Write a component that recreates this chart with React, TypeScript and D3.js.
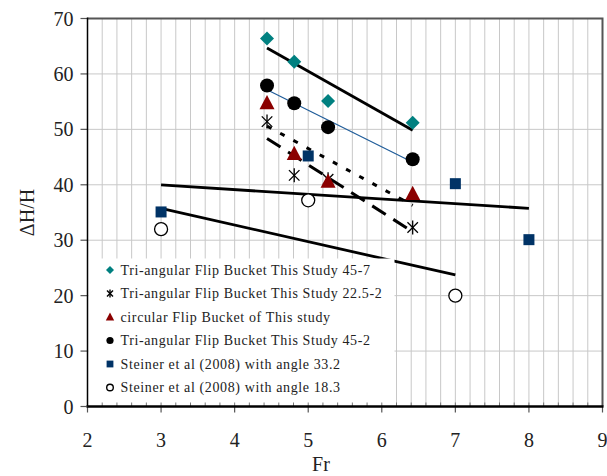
import React from "react";
import * as d3 from "d3";

const frThis = [4.44, 4.81, 5.27, 6.42];
const dh45_7 = [66.4, 62.2, 55.1, 51.2];
const dh22_5 = [51.4, 41.7, 41.0, 32.3];
const dhCircular = [54.8, 45.6, 40.6, 38.4];
const dh45_2 = [57.9, 54.7, 50.4, 44.6];
const frSteiner33 = [3, 5, 7, 8];
const dhSteiner33 = [35.1, 45.2, 40.2, 30.1];
const frSteiner18 = [3, 5, 7];
const dhSteiner18 = [32.0, 37.2, 20.0];

const xTicks = [2, 3, 4, 5, 6, 7, 8, 9];
const yTicks = [0, 10, 20, 30, 40, 50, 60, 70];

const legendLabels = [
  "Tri-angular Flip Bucket This Study 45-7",
  "Tri-angular Flip Bucket This Study 22.5-2",
  "circular Flip Bucket of This study",
  "Tri-angular Flip Bucket This Study 45-2",
  "Steiner  et al (2008) with angle 33.2",
  "Steiner  et al (2008) with angle 18.3",
];

const W = 607, H = 476;
const L = 87.5, R = 602.5, T = 18.5, B = 406.5;
const FONT = "'Liberation Serif', 'Times New Roman', serif";

function fit(xs: number[], ys: number[]) {
  const mx = d3.mean(xs)!, my = d3.mean(ys)!;
  let sxy = 0, sxx = 0;
  xs.forEach((x, i) => { sxy += (x - mx) * (ys[i] - my); sxx += (x - mx) * (x - mx); });
  const m = sxy / sxx;
  const b = my - m * mx;
  const x0 = d3.min(xs)!, x1 = d3.max(xs)!;
  return [[x0, m * x0 + b], [x1, m * x1 + b]] as [number, number][];
}

type Kind = "diamond" | "star" | "triangle" | "circle" | "square" | "open";

function Marker({ kind, cx, cy, s, sw = 1.3 }: { kind: Kind; cx: number; cy: number; s: number; sw?: number }) {
  if (kind === "diamond")
    return <path d={`M${cx},${cy - s}L${cx + s},${cy}L${cx},${cy + s}L${cx - s},${cy}Z`} fill="#008080" />;
  if (kind === "triangle")
    return <path d={`M${cx},${cy - s * 1.05}L${cx + s},${cy + s * 0.85}L${cx - s},${cy + s * 0.85}Z`} fill="#8B0000" />;
  if (kind === "circle") return <circle cx={cx} cy={cy} r={s} fill="#000" />;
  if (kind === "square")
    return <rect x={cx - s} y={cy - s} width={2 * s} height={2 * s} fill="#003366" />;
  if (kind === "open")
    return <circle cx={cx} cy={cy} r={s} fill="#fff" stroke="#000" strokeWidth={sw} />;
  const d = s * 0.75;
  return (
    <g stroke="#000" strokeWidth={sw}>
      <line x1={cx - d} y1={cy - d} x2={cx + d} y2={cy + d} />
      <line x1={cx - d} y1={cy + d} x2={cx + d} y2={cy - d} />
      <line x1={cx} y1={cy - s} x2={cx} y2={cy + s} />
    </g>
  );
}

export default function App() {
  const x = d3.scaleLinear().domain([2, 9]).range([L, R]);
  const y = d3.scaleLinear().domain([0, 70]).range([B, T]);
  const line = d3.line<[number, number]>().x((d) => x(d[0])).y((d) => y(d[1]));

  const minor = d3.range(2.2, 9, 0.2);

  const series: { xs: number[]; ys: number[]; kind: Kind; size: number; legSize: number }[] = [
    { xs: frThis, ys: dh45_7, kind: "diamond", size: 7, legSize: 4 },
    { xs: frThis, ys: dh22_5, kind: "star", size: 7, legSize: 4 },
    { xs: frThis, ys: dhCircular, kind: "triangle", size: 7.5, legSize: 4.2 },
    { xs: frThis, ys: dh45_2, kind: "circle", size: 7, legSize: 3.6 },
    { xs: frSteiner33, ys: dhSteiner33, kind: "square", size: 5.5, legSize: 3.4 },
    { xs: frSteiner18, ys: dhSteiner18, kind: "open", size: 6.5, legSize: 3.3 },
  ];

  const trends = [
    { pts: fit(frThis, dh45_7), stroke: "#000", w: 2.8, dash: undefined },
    { pts: fit(frThis, dh45_2), stroke: "#1f5c99", w: 1.2, dash: undefined },
    { pts: fit(frThis, dhCircular), stroke: "#000", w: 3, dash: "5,10" },
    { pts: fit(frThis, dh22_5), stroke: "#000", w: 3, dash: "16,9" },
    { pts: fit(frSteiner33, dhSteiner33), stroke: "#000", w: 2.8, dash: undefined },
    { pts: fit(frSteiner18, dhSteiner18), stroke: "#000", w: 2.8, dash: undefined },
  ];

  const legX = 88.5, legY = 258.5, legW = 306, legH = 147;
  const rowY = (i: number) => 270 + i * 23.5;

  return (
    <svg width={W} height={H} style={{ position: "absolute", left: 0, top: 0 }} fontFamily={FONT}>
      <rect x={0} y={0} width={W} height={H} fill="#fff" />
      {/* gridlines */}
      <g stroke="#c8c8c8" strokeWidth={1}>
        {minor.map((v) => (
          <line key={"v" + v} x1={x(v)} x2={x(v)} y1={T} y2={B} />
        ))}
        {yTicks.slice(1, -1).map((v) => (
          <line key={"h" + v} x1={L} x2={R} y1={y(v)} y2={y(v)} />
        ))}
      </g>
      {/* plot border top & right */}
      <path d={`M${L},${T}H${R}V${B}`} fill="none" stroke="#555" strokeWidth={2} />
      {/* trend lines */}
      {trends.map((t, i) => (
        <path key={i} d={line(t.pts)!} fill="none" stroke={t.stroke} strokeWidth={t.w} strokeDasharray={t.dash} />
      ))}
      {/* markers */}
      {series.map((s, si) =>
        s.xs.map((v, i) => <Marker key={si + "-" + i} kind={s.kind} cx={x(v)} cy={y(s.ys[i])} s={s.size} />)
      )}
      {/* legend */}
      <rect x={legX} y={legY} width={legW} height={legH} fill="#fff" />
      {series.map((s, i) => (
        <g key={"leg" + i}>
          <Marker kind={s.kind} cx={110} cy={rowY(i)} s={s.legSize} sw={1.4} />
          <text x={120.5} y={rowY(i)} dy="0.35em" fontSize={14} letterSpacing={0.62} fill="#222">
            {legendLabels[i]}
          </text>
        </g>
      ))}
      {/* x axis */}
      <g stroke="#000">
        {minor.map((v) => (
          <line key={"mt" + v} x1={x(v)} x2={x(v)} y1={B - 4} y2={B} strokeWidth={1} stroke="#777" />
        ))}
        {xTicks.map((v) => (
          <line key={"xt" + v} x1={x(v)} x2={x(v)} y1={B} y2={B + 6} strokeWidth={1.2} stroke="#555" />
        ))}
        <line x1={L - 1} x2={R + 1} y1={B} y2={B} strokeWidth={2.5} />
      </g>
      {/* y axis */}
      <g>
        {yTicks.map((v) => (
          <line key={"yt" + v} x1={L - 7} x2={L} y1={y(v)} y2={y(v)} stroke="#555" strokeWidth={1.2} />
        ))}
        <line x1={L} x2={L} y1={T - 1} y2={B} stroke="#000" strokeWidth={1.5} />
      </g>
      {xTicks.map((v) => (
        <text key={"xl" + v} x={x(v)} y={447} textAnchor="middle" fontSize={20} fill="#222">
          {v}
        </text>
      ))}
      {yTicks.map((v) => (
        <text key={"yl" + v} x={L - 14} y={y(v)} dy="0.35em" textAnchor="end" fontSize={20} fill="#222">
          {v}
        </text>
      ))}
      <text x={321} y={471} textAnchor="middle" fontSize={20} fill="#222">
        Fr
      </text>
      <text transform={`translate(34,${(T + B) / 2}) rotate(-90)`} textAnchor="middle" fontSize={20} fill="#222">
        ΔH/H
      </text>
    </svg>
  );
}
